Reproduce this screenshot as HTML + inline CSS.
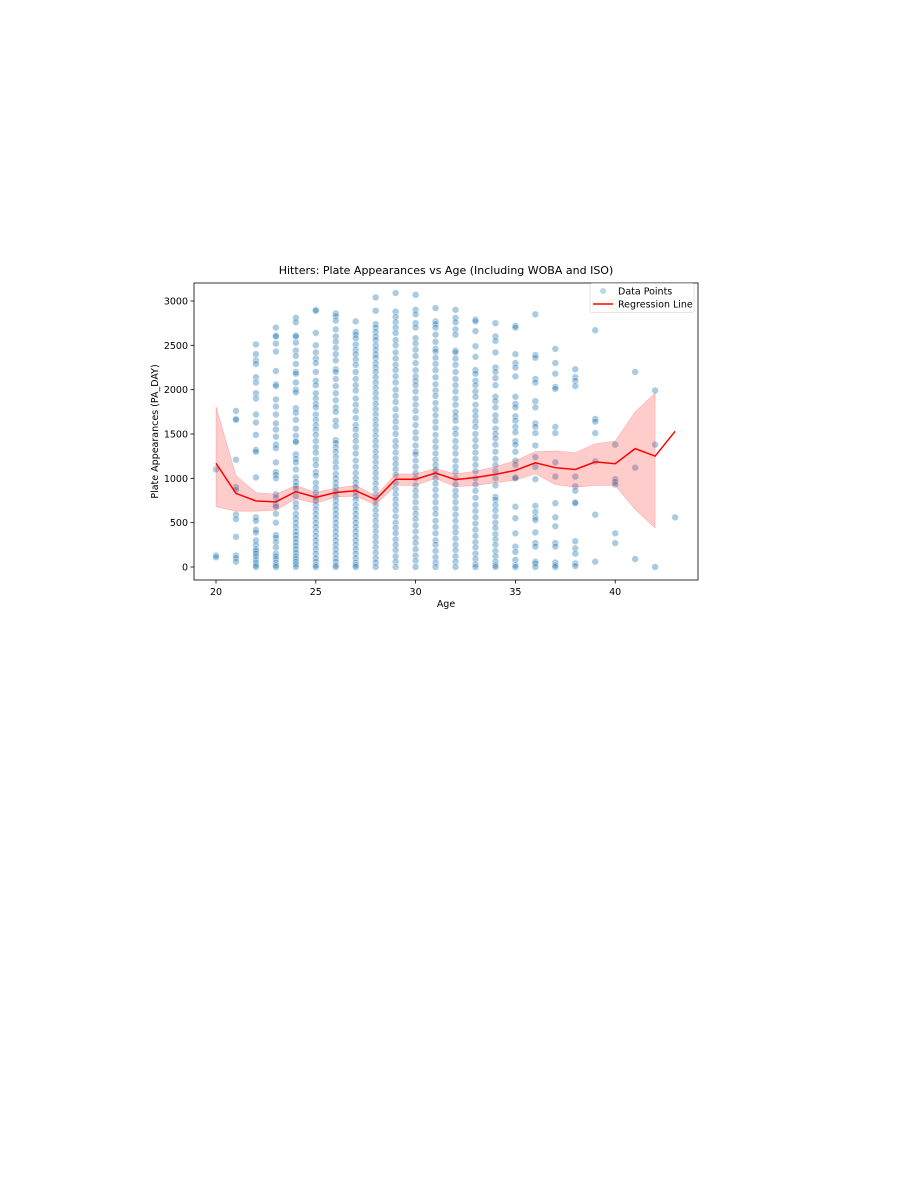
<!DOCTYPE html>
<html><head><meta charset="utf-8"><style>
body{margin:0;background:#fff;width:918px;height:1188px;overflow:hidden}
svg{display:block;font-family:"DejaVu Sans","Liberation Sans",sans-serif}
</style></head><body>
<svg id="chart" width="918" height="1188" viewBox="0 0 918 1188">
<rect x="0" y="0" width="918" height="1188" fill="#fff"/>
<g id="plot"></g>
</svg>
<script>
const ages=[20,21,22,23,24,25,26,27,28,29,30,31,32,33,34,35,36,37,38,39,40,41,42,43];
const pts={
20:[1100,130,110],
21:[1760,1670,1660,1210,900,870,590,540,340,130,100,60],
22:[2510,2400,2330,2290,2140,2080,1960,1900,1720,1630,1490,1320,1300,1010,560,520,420,390,300,250,200,180,150,120,80,50,20,0],
23:[2700,2610,2600,2520,2430,2210,2060,2040,1890,1810,1720,1620,1550,1470,1380,1340,1180,1070,1040,1000,820,780,700,680,600,500,360,330,280,220,150,120,90,50,20,0],
24:[2810,2760,2610,2600,2530,2440,2380,2290,2200,2180,2080,2000,1970,1790,1740,1660,1560,1480,1420,1410,1270,1220,1180,1100,1010,960,920,880,800,720,670,600,550,500,450,400,360,320,280,240,200,160,120,90,60,30,0],
25:[2900,2890,2640,2500,2420,2350,2300,2200,2100,2050,1960,1900,1840,1800,1720,1660,1600,1550,1490,1420,1350,1290,1210,1150,1070,1030,950,890,840,790,750,700,650,600,550,500,450,400,350,300,250,200,150,100,60,20,0],
26:[2860,2830,2780,2680,2600,2540,2470,2400,2330,2230,2200,2120,2040,1960,1880,1800,1750,1650,1590,1430,1400,1350,1300,1240,1180,1120,1050,1000,950,900,850,800,750,700,650,600,550,500,450,400,350,300,250,200,150,100,60,20,0],
27:[2770,2650,2620,2580,2510,2450,2400,2340,2280,2200,2120,2050,1990,1900,1830,1760,1680,1600,1550,1480,1420,1350,1280,1200,1130,1060,1000,950,900,850,800,760,700,650,600,550,500,450,400,350,300,250,200,150,100,50,20,0],
28:[3040,2890,2740,2700,2650,2600,2560,2500,2450,2400,2360,2300,2250,2200,2140,2080,2020,1960,1900,1840,1780,1720,1660,1600,1540,1480,1420,1360,1300,1240,1180,1120,1060,1000,940,880,820,760,700,640,580,520,460,400,340,280,220,160,100,50,0],
29:[3090,2880,2820,2760,2700,2640,2560,2500,2420,2350,2280,2220,2150,2080,2000,1930,1860,1780,1700,1640,1570,1500,1420,1360,1290,1220,1160,1100,1040,950,880,820,760,700,640,570,500,440,380,310,250,190,120,60,0],
30:[3070,2900,2850,2750,2700,2580,2520,2450,2380,2300,2220,2150,2100,2050,1980,1900,1830,1760,1680,1600,1520,1450,1370,1300,1270,1200,1130,1060,1000,920,860,800,730,660,600,540,470,400,330,270,200,130,70,0],
31:[2920,2770,2740,2700,2620,2540,2460,2430,2360,2290,2220,2140,2060,1990,1930,1850,1780,1710,1640,1570,1490,1420,1350,1280,1210,1150,1100,1050,1000,940,870,800,730,660,600,520,450,380,300,250,180,110,50,0],
32:[2900,2810,2760,2680,2620,2440,2420,2350,2280,2200,2120,2050,1980,1900,1830,1750,1700,1650,1560,1500,1420,1350,1280,1200,1130,1070,1000,930,860,800,730,660,590,520,450,390,320,250,190,120,60,0],
33:[2790,2770,2660,2490,2370,2220,2180,2100,2050,1980,1920,1830,1760,1700,1640,1580,1500,1430,1360,1290,1220,1150,1080,1000,930,860,780,700,630,560,490,420,350,280,220,150,90,30,0],
34:[2750,2600,2550,2420,2250,2200,2130,2050,1920,1870,1800,1710,1650,1560,1500,1450,1380,1300,1220,1150,1080,1000,920,790,760,700,640,570,500,440,370,310,250,180,120,60,20,0],
35:[2720,2700,2400,2300,2250,2150,1920,1840,1800,1700,1650,1580,1520,1420,1380,1300,1200,1150,1010,1000,680,550,380,230,170,80,20,0],
36:[2850,2390,2360,2120,2080,1870,1800,1620,1580,1510,1370,1240,1130,990,690,620,560,530,390,270,230,60,40,0],
37:[2460,2300,2180,2030,2010,1580,1510,1180,1020,720,560,460,270,230,50,20,0],
38:[2230,2140,2100,2040,1020,910,860,730,720,290,210,150,40,10],
39:[2670,1670,1640,1510,1190,590,60],
40:[1380,990,960,930,380,270],
41:[2200,1120,90],
42:[1990,1380,0],
43:[560]};
const lineVals=[1170,830,745,735,850,785,840,860,760,990,990,1060,985,1010,1045,1090,1175,1120,1100,1185,1165,1335,1250,1530];
const upperVals=[1810,1030,840,820,920,840,890,920,800,1050,1050,1110,1050,1080,1130,1200,1300,1310,1290,1390,1420,1750,1960];
const lowerVals=[680,630,630,640,770,720,790,800,700,920,920,1000,905,920,950,980,1050,930,900,920,920,650,440];
const xTicks=[20,25,30,35,40];
const yTicks=[0,500,1000,1500,2000,2500,3000];

const NS="http://www.w3.org/2000/svg";
const L=194,R=698,T=283,B=580;
const X=a=>216+(a-20)*19.96;
const Y=v=>567-v*(266/3000);
const g=document.getElementById('plot');
function mk(tag,attrs,parent){const e=document.createElementNS(NS,tag);for(const k in attrs)e.setAttribute(k,attrs[k]);(parent||g).appendChild(e);return e;}

const sg=mk('g',{});


ages.forEach(a=>{(pts[a]||[]).forEach(v=>{
  const c=mk('circle',{cx:X(a),cy:Y(v),r:3.4,fill:'rgba(31,119,180,0.38)',stroke:'rgba(255,255,255,0.6)','stroke-width':0.6},sg);
  
  
});});

let d='';
upperVals.forEach((v,i)=>{d+=(i?'L':'M')+X(ages[i])+','+Y(v);});
for(let i=lowerVals.length-1;i>=0;i--)d+='L'+X(ages[i])+','+Y(lowerVals[i]);
const band=mk('path',{d:d+'Z',fill:'rgba(255,0,0,0.2)',stroke:'rgba(255,0,0,0.25)','stroke-width':0.6});



const line=mk('polyline',{points:lineVals.map((v,i)=>X(ages[i])+','+Y(v)).join(' '),fill:'none',stroke:'#ff0000','stroke-width':1.5});



const fr=mk('rect',{x:L,y:T,width:R-L,height:B-T,fill:'none',stroke:'#000','stroke-width':0.8});



xTicks.forEach(t=>{
  mk('line',{x1:X(t),x2:X(t),y1:B,y2:B+3.5,stroke:'#000','stroke-width':0.8});
  const tx=mk('text',{x:X(t),y:B+15,'font-size':'9.5','text-anchor':'middle',fill:'#000'});
  tx.textContent=t;
  
  
});
yTicks.forEach(t=>{
  mk('line',{x1:L-3.5,x2:L,y1:Y(t),y2:Y(t),stroke:'#000','stroke-width':0.8});
  const tx=mk('text',{x:L-6,y:Y(t)+3.5,'font-size':'9.5','text-anchor':'end',fill:'#000'});
  tx.textContent=t;
  
  
});

const xt=mk('text',{x:(L+R)/2,y:607,'font-size':'9.5','text-anchor':'middle'});
xt.textContent='Age';


const yt=mk('text',{x:0,y:0,'font-size':'9.5','text-anchor':'middle',transform:'translate(158,431.5) rotate(-90)'});
yt.textContent='Plate Appearances (PA_DAY)';


const tt=mk('text',{x:(L+R)/2,y:274,'font-size':'11','text-anchor':'middle'});
tt.textContent='Hitters: Plate Appearances vs Age (Including WOBA and ISO)';



const lg=mk('g',{});


mk('rect',{x:590,y:283.5,width:104,height:29,rx:2,fill:'rgba(255,255,255,0.8)',stroke:'#ddd','stroke-width':0.8},lg);
mk('circle',{cx:603,cy:291,r:3,fill:'rgba(31,119,180,0.3)'},lg);
mk('line',{x1:593,x2:613,y1:304,y2:304,stroke:'#f00','stroke-width':1.5},lg);
const l1=mk('text',{x:618,y:294.5,'font-size':'9.5'},lg);l1.textContent='Data Points';


const l2=mk('text',{x:618,y:307.5,'font-size':'9.5'},lg);l2.textContent='Regression Line';


</script>
</body></html>
